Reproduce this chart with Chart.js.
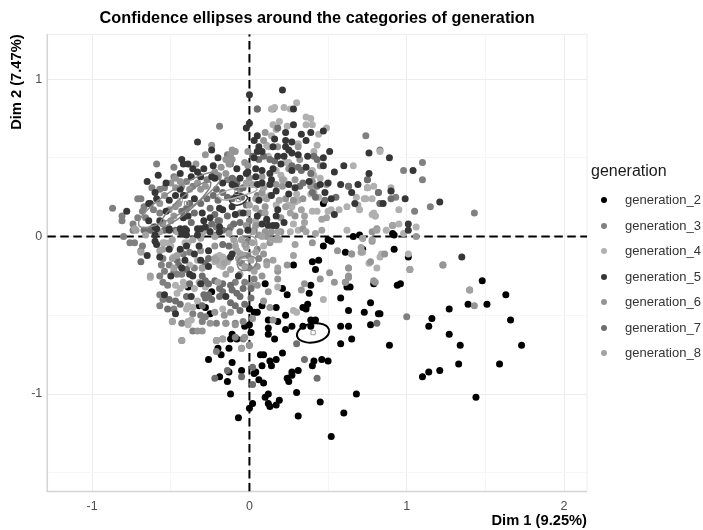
<!DOCTYPE html>
<html>
<head>
<meta charset="utf-8">
<title>Confidence ellipses</title>
<script src="https://cdn.jsdelivr.net/npm/chart.js@4"></script>
<style>
  html, body { margin: 0; padding: 0; background: #fff; }
  #wrap { position: relative; width: 703px; height: 530px; overflow: hidden; font-family: "Liberation Sans", Arial, sans-serif; }
  #legendTitle { position: absolute; left: 591px; top: 162px; font-size: 16px; color: #1a1a1a; }
  .legendRow { position: absolute; left: 625px; font-size: 13px; line-height: 16px; color: #333; white-space: nowrap; }
  .legendDot { position: absolute; left: -24px; top: 5px; width: 6.4px; height: 6.4px; border-radius: 50%; }
</style>
</head>
<body>
<div id="wrap">
  <canvas id="mcaChart" width="703" height="530"></canvas>
  <div id="legendTitle">generation</div>
</div>
<script>
const titleText = 'Confidence ellipses around the categories of generation';
const xTitle = 'Dim 1 (9.25%)';
const yTitle = 'Dim 2 (7.47%)';
const xTicks = [-1, -0.5, 0, 0.5, 1, 1.5, 2];
const yTicks = [-1.5, -1, -0.5, 0, 0.5, 1];
const generations = ['generation_2', 'generation_3', 'generation_4', 'generation_5', 'generation_6', 'generation_7', 'generation_8'];
const greys = ['#000000', '#808080', '#b0b0b0', '#363636', '#959595', '#6e6e6e', '#a2a2a2'];

const gen2 = [[.61,-.10],[.40,-.16],[.44,-.15],[.42,-.21],[.28,-.18],[.10,-.30],[.21,-.33],[.24,-.37],[.39,-.31],[.38,-.36],[.58,-.39],
  [-.39,-.32],[-.24,-.35],[-.32,-.44],[-.28,-.45],[-.25,-.49],[0,-.46],[.03,-.48],[.05,-.48],[.08,-.44],[.17,-.45],[.23,-.50],[.12,-.53],
  [.18,-.54],[.23,-.59],[.27,-.57],[.37,-.43],[.34,-.45],[.36,-.46],[.39,-.53],[.42,-.53],[.34,-.57],[.39,-.57],[.12,-.58],[.12,-.62],
  [.16,-.65],[-.03,-.57],[0,-.56],[.01,-.61],[-.11,-.62],[-.12,-.65],[-.08,-.65],[-.20,-.71],[-.13,-.71],[-.18,-.75],[-.26,-.78],[-.11,-.80],
  [.07,-.75],[.09,-.75],[.21,-.74],[.13,-.79],[.14,-.82],[.17,-.78],[.08,-.82],[.41,-.79],[.40,-.82],[.46,-.78],[.50,-.79],[.58,-.57],
  [.63,-.57],[.77,-.56],[.82,-.49],[.73,-.48],[.63,-.47],[.77,-.42],[.62,-.32],[.64,-.32],[.65,-.65],[.58,-.68],[-.13,-.86],[-.19,-.89],
  [-.05,-.85],[.04,-.86],[.03,-.87],[.06,-.91],[.09,-.93],[-.14,-.92],[.27,-.86],[.31,-.85],[.24,-.90],[.25,-.92],[.27,-.88],[-.12,-1.0],
  [.30,-.99],[.12,-1.0],[.10,-1.02],[.12,-1.06],[.13,-1.08],[.17,-1.07],[.19,-1.04],[.02,-1.06],[0,-1.09],[-.07,-1.15],[.31,-1.14],[.45,-1.05],
  [.60,-1.12],[.68,-1.0],[.52,-1.27],[1.48,-.28],[1.63,-.37],[1.39,-.43],[1.51,-.43],[1.27,-.46],[1.66,-.53],[1.16,-.52],[1.14,-.57],[1.27,-.62],
  [1.34,-.69],[1.73,-.69],[.89,-.69],[1.33,-.81],[1.59,-.81],[1.21,-.85],[1.14,-.86],[1.10,-.89],[1.44,-1.02],[.94,-.31],[.96,-.30],[.92,-.08],
  [1.01,-.13],[.72,-.08],[.91,.02],[.92,.01],[.66,0],[.70,.01],[.79,-.30],[.83,-.49],[.47,.21],[.47,-.06],[.50,-.02],[.52,-.03]];

const gen5 = [[-.33,.60],[-.24,.55],[-.43,.49],[-.42,.46],[-.39,.46],[-.36,.43],[-.33,.41],[-.29,.43],[-.23,.45],[-.20,.50],[-.58,.39],[-.65,.35],
  [-.60,.28],[-.64,.21],[-.59,.24],[-.78,.16],[-.51,.23],[-.44,.30],[-.47,.26],[-.42,.26],[-.37,.38],[-.24,.38],[-.22,.37],[-.17,.34],[-.11,.33],
  [-.09,.32],[-.06,.37],[-.08,.43],[-.02,.40],[-.35,.24],[-.17,.17],[-.11,.19],[-.09,.14],[-.04,.15],[-.64,.10],[-.57,.10],[-.51,.05],[-.42,.12],
  [-.39,.13],[-.44,.05],[-.40,.04],[-.43,.02],[-.30,.15],[-.29,.10],[-.31,.05],[-.25,.03],[-.59,.05],[-.60,.01],[-.33,.01],[-.40,.01],[.21,.93],
  [0,.90],[0,.72],[-.02,.69],[.28,.81],[.28,.71],[.23,.66],[.05,.64],[.03,.61],[.06,.57],[.05,.54],[.08,.54],[.15,.57],[.23,.61],[.23,.57],[.25,.55],
  [.33,.65],[.39,.66],[.36,.61],[.47,.67],[.27,.53],[.31,.52],[.18,.51],[.22,.51],[.37,.51],[.47,.50],[.51,.54],[.76,.53],[.89,.50],[.60,.45],
  [.47,.45],[.36,.44],[.27,.42],[.20,.46],[.04,.43],[.08,.42],[-.01,.41],[.04,.38],[.15,.43],[.76,.40],[.54,.41],[.50,.34],[.58,.33],[.69,.33],
  [.65,.28],[.38,.35],[.08,.34],[.14,.36],[.13,.33],[.17,.29],[.25,.27],[.29,.31],[.48,.28],[.52,.24],[.67,.21],[.85,.21],[.54,.14],[.17,.13],
  [.22,.09],[.11,.11],[.12,.07],[.15,.07],[.17,.07],[.06,.23],[-.65,-.12],[-.60,-.03],[-.59,-.05],[-.57,-.13],[-.51,-.08],[-.44,-.08],[-.40,-.06],
  [-.35,-.11],[-.41,-.15],[-.43,-.20],[-.31,-.15],[-.26,-.19],[-.26,-.09],[-.32,-.06],[-.50,-.25],[-.38,-.24],[-.36,-.25],[-.31,-.30],[-.54,-.37],
  [-.37,-.38],[-.15,-.38],[-.47,-.49],[-.12,-.13],[-.11,-.11],[-.07,-.25],[-.41,.03],[-.41,.05],[-.60,.06],[-.51,.04],[-.33,.05],[-.19,.03],[-.01,.04],
  [1.04,.42],[.90,.29],[.99,.24],[1.21,.22],[1.01,.08],[1.01,.04],[1.35,-.13],
  [-.53,.34],[-.63,.21],[-.44,.40],[-.31,.38],[-.08,.26],[-.19,.18],[-.25,.12],[-.19,.06],[-.28,.06],[-.53,.16],
  [.05,.33],[.14,.26],[.25,.33],[.18,.17],[.05,.13],[.08,.08],[.16,.62],[.27,.60],[.03,.50],[.13,.40],[.45,.33]];

const gen4 = [[.30,.85],[.16,.82],[.14,.81],[.22,.82],[.26,.81],[.36,.76],[.39,.75],[.19,.73],[.17,.68],[.15,.71],[.36,.71],[.40,.71],[.49,.69],[.44,.65],
  [.14,.64],[.24,.70],[.31,.59],[.43,.58],[.12,.57],[.41,.54],[.66,.45],[.25,.47],[.23,.47],[.17,.42],[.20,.39],[.22,.36],[.45,.37],[.40,.42],[.41,.39],
  [.79,.32],[.90,.31],[.75,.31],[.74,.24],[.78,.24],[.69,.20],[.70,.17],[.62,.19],[.57,.17],[.52,.17],[.40,.16],[.43,.16],[.50,.16],[.79,.15],[.80,.13],
  [.30,.27],[.25,.20],[.29,.22],[.27,.19],[.31,.23],[.41,.28],[.39,.27],[.44,.25],[.28,.08],[.31,.04],[.26,.03],[.04,.10],[.17,.20],[.08,.25],[.10,.25],
  [.11,.58],[.12,.51],[.95,.17],[1.06,.06],[.95,.08],[.98,.02],[.80,.13],[.78,.14],[.73,.24],[.68,.25],[.62,.04],[.87,.04],[.65,-.11],[.72,-.10],[.83,-.13],
  [.84,-.11],[.76,-.17],[.81,-.20],[.63,-.20],[1.01,-.11],[.47,-.40],[.18,-.32],[-.63,-.26],[-.54,-.04],[-.51,-.04],[-.46,-.36],[-.44,-.33],[-.41,-.31],
  [-.47,-.31],[-.39,-.44],[-.17,-.46],[-.19,-.12],[-.18,-.18],[-.39,-.54],[-.37,-.53],[-.39,-.56],[.83,.54],[.28,-.47],[.30,-.48],[.17,-.02],[.19,-.02],
  [-.21,-.13],[-.17,-.13],[-.19,-.16],[-.55,-.04],[.09,-.06],
  [-.20,-.13],[-.22,-.16],[-.19,-.18],[-.17,-.19],[-.14,-.16],[-.18,-.15],[-.50,-.06],[-.48,-.13],[-.41,-.04],[-.39,-.04],[-.33,-.15],[-.38,-.18],
  [-.32,-.29],[-.28,-.32],[-.35,-.33],[-.42,-.29],[-.33,-.41],[-.40,-.46],[-.36,-.45]];

const gen3 = [[.74,.64],[.83,.55],[1.10,.47],[.98,.42],[1.10,.36],[.63,.32],[.75,.36],[.75,.31],[.82,.28],[.93,.25],[1.15,.19],[1.05,.16],[1.43,.15],[.83,.21],
  [-.80,0],[-.76,-.04],[-.73,-.04],[-.69,-.09],[-.68,-.06],[-.57,-.25],[-.56,-.18],[-.55,-.29],[-.52,-.31],[-.48,-.22],[-.46,-.24],[-.43,-.24],[-.57,-.37],
  [-.55,-.40],[-.57,-.44],[-.48,-.46],[-.49,-.54],[-.43,-.55],[-.36,-.60],[-.43,-.66],[-.36,-.49],[-.31,-.50],[-.30,-.54],[-.28,-.51],[-.21,-.55],[-.15,-.55],
  [-.09,-.55],[-.04,-.54],[-.21,-.66],[-.17,-.65],[-.09,-.64],[-.04,-.65],[-.05,-.71],[0,-.69],[-.21,-.73],[-.87,.18],[-.81,.13],[-.81,.10],[-.71,.24],[-.69,.24],
  [-.59,.46],[-.48,.44],[-.54,.31],[-.62,.31],[-.68,.16],[-.74,.04],[-.61,.06],[-.66,.12],[1.02,-.21],[1.23,-.18],[1.40,-.34],[1.0,-.51],[.05,.81],[-.19,.70],
  [.15,.81],[-.14,.52],[-.13,.48],[-.12,.46],[-.12,.50],[.05,.26],[.09,.25],[.07,.15],[.11,.10],[0,.10],[.03,.04],[-.12,.06],[-.19,.10],[-.21,.06],[-.06,.15],
  [-.10,.36],[-.06,.30],[-.14,.36],
  [-.48,.38],[-.57,.30],[-.67,.19],[-.71,.12],[-.74,.08],[-.61,.17],[-.57,.15],[-.40,.35],[-.36,.32],[-.41,.26],[-.27,.36],[-.20,.38],
  [-.55,-.14],[-.54,-.22],[-.51,-.18],[-.38,-.10],[-.42,-.11],[-.30,-.20],[-.35,-.20],
  [.05,-.08],[.06,-.14],[-.01,-.03],[-.01,-.12],[-.05,-.17],[0,-.20],[.03,-.27],[-.03,-.29],[-.09,-.29]];

const gen6 = [[.91,.07],[.81,.05],[.78,.03],[1.06,0],[.72,-.01],[.78,-.03],[.86,-.11],[.63,-.26],[.61,-.29],[.79,-.28],[1.23,-.18],[1.43,-.44],[-.50,.34],[-.47,.37],
  [-.44,.35],[-.43,.32],[-.47,.31],[-.54,.26],[-.57,.21],[-.51,.17],[-.47,.19],[-.45,.21],[-.50,.10],[-.55,.09],[-.48,.13],[-.38,.30],[-.33,.34],[-.31,.30],
  [-.28,.32],[-.28,.52],[-.34,.46],[-.24,.58],[-.15,.49],[-.12,.52],[-.11,.49],[-.09,.54],[-.11,.55],[-.13,.46],[-.03,.47],[-.22,.41],[-.18,.44],[-.15,.40],
  [.56,-.09],[.65,-.11],[.77,-.16],[.63,-.20],[.63,-.25],[.80,-.29],[.61,-.29],[.54,-.29],[.51,-.23],[.45,-.27],[.40,-.04],[.35,-.30],[.33,-.34],[.24,-.18],
  [.12,-.35],[.18,-.22],[.18,-.27],[.08,-.25],[.05,-.31],[.01,-.31],[.09,-.41],[.13,-.45],[.15,-.53],[.02,-.52],[-.15,-.55],[-.09,-.56],[-.03,-.64],[0,-.69],
  [.13,-.04],[.11,0],[.09,-.11],[.11,-.16],[.05,-.19],[-.22,-.06],[-.06,-.11],[-.31,-.09],
  [0,.37],[.08,.28],[.17,.33],[.21,.32],[.29,.36],[.39,.32],[.28,.23],[.34,.24],[.23,.24],[.10,.19],[.04,.07],[-.02,.07],[.20,.12],[.29,.13],[.34,.05],
  [.20,.03],[.14,.03],[.10,.03],[.06,.01],[.25,.43],[.32,.49],[.40,.35],[.31,.57],[.18,.57],[.09,.61],[.10,.66],[-.01,.45],[-.01,.54],[.08,.38],[.45,.45],[.49,.33],
  [-.33,-.60],[-.30,-.60],[-.25,-.55],[-.22,-.48],[-.16,-.50],[-.12,-.48]];

const gen7 = [[-.38,.21],[-.31,.21],[-.27,.24],[-.23,.26],[-.21,.30],[-.20,.23],[-.25,.18],[-.22,.14],[-.20,.10],[-.35,.15],[-.40,.18],[-.24,.08],[-.14,.13],
  [-.11,.24],[-.14,.25],[-.05,.25],[-.02,.20],[-.13,.04],[-.06,.03],[-.21,.01],[-.17,.04],[-.67,.04],[-.54,.04],[-.47,.04],[.05,.81],[.18,.69],[.06,.49],[.02,.51],
  [.09,.51],[.13,.49],[.16,.48],[.27,.45],[.31,.44],[.33,.42],[.41,.51],[.43,.49],[.39,.40],[.34,.34],[.32,.32],[.43,.32],[.40,.28],[.42,.25],[.48,.23],[.55,.25],
  [.63,.32],[.75,.36],[.82,.28],[.83,.21],[.90,.24],[-.69,-.16],[-.40,-.38],[-.29,-.37],[-.28,-.39],[-.24,-.40],[-.19,-.38],[-.12,-.31],[-.11,-.34],[-.08,-.36],
  [-.04,-.33],[-.06,-.38],[.01,-.33],[.01,-.39],[-.12,-.42],[-.09,-.44],[-.22,-.28],[-.17,-.30],[-.30,-.25],[-.28,-.28],[-.26,-.30],[.30,-.68],[.35,-.78],[.43,-.90],
  [-.22,-.90],[-.14,-.85],[.02,-.83],[.02,-.94],[-.05,-.89],[.81,-.55],
  [-.46,-.15],[-.45,-.18],[-.40,-.21],[-.28,-.17],[-.26,-.14],[-.38,-.30],[-.26,-.37],[-.30,-.44],[-.44,-.43],[-.19,-.33],[-.17,-.35],[-.17,-.05],[-.13,-.06],
  [-.43,.16],[-.37,.09],[-.63,.04],[-.17,.28],[-.04,.31],[-.11,.37],[-.08,.34],[-.10,.08],[-.06,.09],
  [-.06,-.47],[-.03,-.43],[-.52,-.46],[-.51,-.40],[-.47,-.41]];

const gen8 = [[.90,.29],[.46,.11],[.49,.12],[.46,.04],[.42,.02],[.35,.09],[.36,.03],[.33,.17],[.35,.13],[.26,.15],[.23,.19],[.10,.15],[.04,.18],[0,.20],[-.01,.15],[.04,.24],
  [.11,.24],[.13,.26],[.09,.31],[.02,.33],[-.02,.34],[.21,.36],[.19,.23],[.02,.03],[.08,0],[.18,-.01],[.14,-.02],[.72,-.01],[.78,-.02],[.81,.04],[.91,.07],[-.49,-.02],
  [-.55,-.08],[-.49,-.14],[-.46,-.12],[-.48,-.20],[-.21,-.15],[-.16,-.17],[-.13,-.14],[-.22,-.14],[-.12,-.21],[-.15,-.24],[-.20,-.29],[-.03,-.05],[-.08,-.09],[-.22,0],
  [-.28,.04],[-.31,-.01],[-.36,-.02],[-.46,.03],[-.66,.01],[-.72,.04],[-.73,.05],[-.57,.03],[.29,-.05],[.28,-.12],[.15,-.15],[.18,-.20],[.11,-.18],[.71,-.10],[.71,-.07],
  [-.44,-.09],[-.63,-.25],[-.69,-.10],[-.43,-.66],[-.49,-.54],[-.17,-.65],[-.21,-.66],[-.05,-.71],[1.02,-.21],[1.40,-.34],
  [-.57,-.09],[-.30,.02],[-.26,.04],[-.19,.05],[-.13,.02],[-.10,-.02],[-.30,-.20],[.18,.03],
  [-.05,-.02],[-.02,-.07],[.02,-.04],[-.04,-.12],[.01,-.15],[-.03,-.19],[.04,-.10],[-.07,-.14],[-.09,-.06],[.03,-.22],[-.06,-.24]];

const ellipse2 = [[.508,-.594],[.489,-.567],[.447,-.552],[.3945,-.553],[.344,-.570],[.311,-.598],[.302,-.630],[.321,-.657],[.3626,-.672],[.4155,-.671],[.466,-.654],[.499,-.626],[.508,-.594]];
const ellipse5 = [[-.128,.227],[-.10,.26],[-.07,.274],[-.013,.253],[-.03,.22],[-.07,.20],[-.11,.205],[-.128,.227]];
const ellipse7 = [[-.178,.40],[-.233,.41],[-.344,.374],[-.48,.30],[-.606,.209],[-.687,.1245],[-.702,.07],[-.647,.0595],[-.5364,.0962],[-.40,.17],[-.274,.261],[-.193,.3455],[-.178,.40]];
const ellipse3 = [[-.245,.348],[-.281,.347],[-.351,.308],[-.435,.243],[-.511,.168],[-.559,.104],[-.565,.068],[-.529,.069],[-.459,.108],[-.375,.173],[-.299,.248],[-.251,.312],[-.245,.348]];
const ellipse4 = [[-.208,.263],[-.10,.306],[.025,.316],[.047,.295],[-.038,.263],[-.165,.232],[-.208,.263]];
const ellipse8 = [[-.08,-.048],[-.06,-.005],[-.017,.005],[.03,-.005],[.047,-.043],[.03,-.09],[-.017,-.103],[-.06,-.09],[-.08,-.048]];
const ellipse6 = [[-.08,-.17],[-.06,-.135],[-.017,-.123],[.03,-.13],[.047,-.16],[.02,-.2],[-.027,-.216],[-.065,-.205],[-.08,-.17]];
const centres = [[.405,-.61],[-.07,.235],[-.44,.23],[-.40,.21],[-.08,.28],[-.025,-.05],[-.02,-.165]];

const xMin = -1.285, xMax = 2.146, yMin = -1.619, yMax = 1.284;
const xyPts = rows => rows.map(p => ({ x: p[0], y: p[1] }));

const pointSets = [gen2, gen3, gen4, gen5, gen6, gen7, gen8];
const datasets = [];

// dashed zero lines lie under everything
datasets.push({ data: [{ x: xMin, y: 0 }, { x: xMax, y: 0 }], showLine: true, borderColor: '#000', borderWidth: 2, borderDash: [8.5, 4.5], pointRadius: 0, order: 100 });
datasets.push({ data: [{ x: 0, y: yMin }, { x: 0, y: yMax }], showLine: true, borderColor: '#000', borderWidth: 2, borderDash: [8.5, 4.5], pointRadius: 0, order: 100 });

pointSets.forEach((rows, i) => {
  datasets.push({
    label: generations[i],
    data: xyPts(rows),
    backgroundColor: greys[i],
    pointRadius: 3.5,
    pointBorderWidth: 0,
    order: i === 3 ? 15 : 90 - i * 10
  });
});

[[ellipse2, '#000000', 2], [ellipse3, '#808080', 1.5], [ellipse4, '#b0b0b0', 1.5], [ellipse5, '#363636', 1.5],
 [ellipse6, '#808080', 1.5], [ellipse7, '#8a8a8a', 1.5], [ellipse8, '#a2a2a2', 1.5]].forEach(e => {
  datasets.push({ data: xyPts(e[0]), showLine: true, borderColor: e[1], borderWidth: e[2], tension: 0.4, pointRadius: 0, order: 5 });
});

datasets.push({ data: xyPts(centres), pointStyle: 'rect', pointRadius: 3, backgroundColor: 'rgba(0,0,0,0)', borderColor: '#999', pointBorderColor: '#999', pointBorderWidth: 1, order: 1 });

const panelFrame = {
  id: 'panelFrame',
  beforeDatasetsDraw(chart) {
    const a = chart.chartArea, ctx = chart.ctx;
    ctx.save();
    ctx.strokeStyle = '#ececec';
    ctx.lineWidth = 1;
    ctx.strokeRect(a.left, a.top, a.right - a.left, a.bottom - a.top);
    ctx.strokeStyle = '#d4d4d4';
    ctx.lineWidth = 1.5;
    ctx.beginPath();
    ctx.moveTo(a.left, a.top);
    ctx.lineTo(a.left, a.bottom);
    ctx.lineTo(a.right, a.bottom);
    ctx.stroke();
    ctx.restore();
  }
};

const fontFamily = '"Liberation Sans", Arial, sans-serif';
const gridColor = c => Number.isInteger(c.tick.value) ? '#ededed' : '#f6f6f6';

new Chart(document.getElementById('mcaChart').getContext('2d'), {
  type: 'scatter',
  data: { datasets: datasets },
  options: {
    responsive: false,
    animation: false,
    devicePixelRatio: 1,
    layout: { padding: { right: 116 } },
    plugins: {
      legend: { display: false },
      tooltip: { enabled: false },
      title: {
        display: true,
        text: titleText,
        fullSize: false,
        color: '#000',
        font: { family: fontFamily, size: 16.3, weight: 'bold', lineHeight: 1.2 },
        padding: { top: 9, bottom: 5.8 }
      }
    },
    scales: {
      x: {
        type: 'linear', min: xMin, max: xMax,
        afterBuildTicks: s => { s.ticks = xTicks.map(v => ({ value: v })); },
        afterFit: s => { s.height = 38.5; },
        ticks: { autoSkip: false, maxRotation: 0, padding: 8, color: '#4d4d4d', font: { family: fontFamily, size: 12.5 },
          callback: v => Number.isInteger(v) ? String(v) : '' },
        grid: { color: gridColor, drawTicks: false },
        border: { display: false },
        title: { display: true, text: xTitle, align: 'end', color: '#000', padding: { top: 0, bottom: 0 },
          font: { family: fontFamily, size: 14.7, weight: 'bold' } }
      },
      y: {
        type: 'linear', min: yMin, max: yMax,
        afterBuildTicks: s => { s.ticks = yTicks.map(v => ({ value: v })); },
        afterFit: s => { s.width = 47.3; },
        ticks: { autoSkip: false, padding: 5, color: '#4d4d4d', font: { family: fontFamily, size: 12.5 },
          callback: v => Number.isInteger(v) ? String(v) : '' },
        grid: { color: gridColor, drawTicks: false },
        border: { display: false },
        title: { display: true, text: yTitle, align: 'end', color: '#000', padding: { top: 8, bottom: 0 },
          font: { family: fontFamily, size: 14.7, weight: 'bold' } }
      }
    }
  },
  plugins: [panelFrame]
});

// legend sits beside the canvas, one row per generation
const wrap = document.getElementById('wrap');
generations.forEach((name, i) => {
  const row = document.createElement('div');
  row.className = 'legendRow';
  row.style.top = (192 + i * 25.5) + 'px';
  row.textContent = name;
  const dot = document.createElement('span');
  dot.className = 'legendDot';
  dot.style.background = greys[i];
  row.appendChild(dot);
  wrap.appendChild(row);
});
</script>
</body>
</html>
